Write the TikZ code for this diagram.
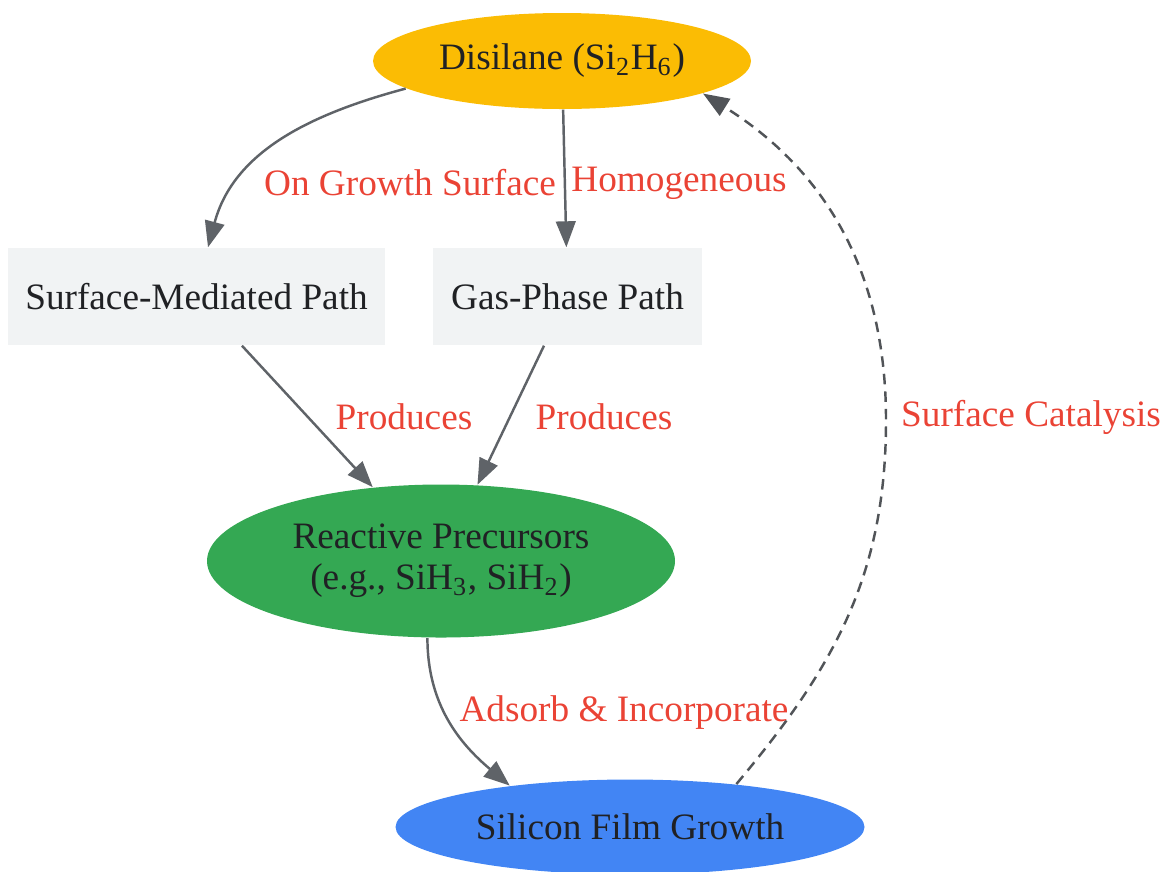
\documentclass[tikz,border=0pt]{standalone}
\usepackage{fontspec}
\setmainfont{Liberation Serif}
\usetikzlibrary{arrows.meta,shapes.geometric}

\definecolor{dsyellow}{HTML}{FBBC04}
\definecolor{rpgreen}{HTML}{34A853}
\definecolor{sfblue}{HTML}{4285F4}
\definecolor{pathgray}{HTML}{F1F3F4}
\definecolor{txtdark}{HTML}{202124}
\definecolor{edgegray}{HTML}{5F6368}
\definecolor{lblred}{HTML}{EA4335}

\begin{document}
\begin{tikzpicture}[
   font=\fontsize{10.6}{11.7}\selectfont,
   oval/.style={ellipse,inner sep=0pt,text=txtdark,align=center},
   pathbox/.style={rectangle,fill=pathgray,inner sep=0pt,text=txtdark,
    minimum height=0.97cm},
   lbl/.style={text=lblred,inner sep=1pt},
   conn/.style={draw=edgegray,line width=0.7pt,
    -{Triangle[length=7.4pt,width=5.6pt]}}
    ]

    \useasboundingbox (0,0) rectangle (11.64,-8.71);

    % Ovals:
    \node[oval,fill=dsyellow,minimum width=3.78cm,minimum height=0.96cm]
      at (5.62,-0.61) (dis) {\raisebox{-2pt}{Disilane (Si\textsubscript{2}H\textsubscript{6})}};
    \node[oval,fill=rpgreen,minimum width=4.68cm,minimum height=1.53cm]
      at (4.41,-5.61) (rp) {\raisebox{-2pt}{\begin{tabular}{@{}c@{}}Reactive Precursors\\(e.g., SiH\textsubscript{3}, SiH\textsubscript{2})\end{tabular}}};
    \node[oval,fill=sfblue,minimum width=4.69cm,minimum height=0.95cm]
      at (6.30,-8.27) (sfg) {Silicon Film Growth};

    % Paths:
    \node[pathbox,minimum width=3.77cm] at (1.965,-2.965) (smp) {Surface-Mediated Path};
    \node[pathbox,minimum width=2.69cm] at (5.675,-2.965) (gpp) {Gas-Phase Path};

    % Turning point of the dashed edge:
    \coordinate (cat) at (8.86,-4.2);

    % Edges:
    \draw[conn] (dis.190) to[out=195,in=75] (smp.north -| 2.08,0);
    \draw[conn] (dis) -- (gpp);
    \draw[conn] (smp) -- (rp);
    \draw[conn] (gpp) -- (rp);
    \draw[conn] (rp.260) to[out=-90,in=140] (sfg.161);
    \draw[conn,dash pattern=on 3pt off 2pt,draw=edgegray!85!black]
      (sfg.22) to[out=50,in=-90] (cat) to[out=90,in=-32] (dis.-13);

    % Labels:
    \node[lbl] at (4.10,-1.83) (lgrowth) {On Growth Surface};
    \node[lbl] at (6.79,-1.83) (lhomo) {Homogeneous};
    \node[lbl] at (4.04,-4.17) (lprod1) {Produces};
    \node[lbl] at (6.04,-4.17) (lprod2) {Produces};
    \node[lbl] at (6.24,-7.13) (ladsorb) {Adsorb \& Incorporate};
    \node[lbl] at (10.31,-4.17) (lcat) {Surface Catalysis};

\end{tikzpicture}
\end{document}
